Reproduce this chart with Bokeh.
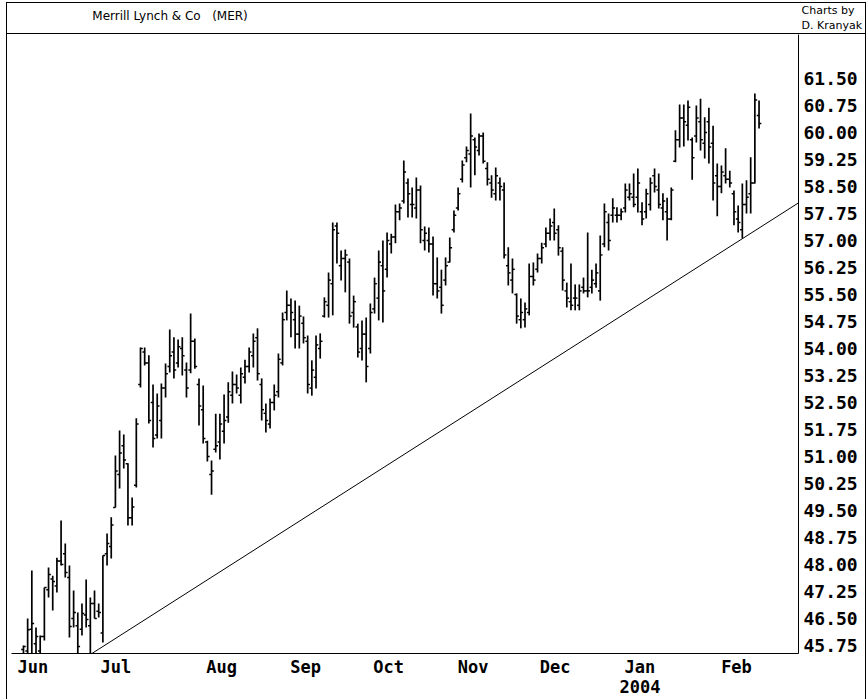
from bokeh.plotting import figure
from bokeh.layouts import column
from bokeh.models import ColumnDataSource, Range1d, FixedTicker, LinearAxis
from bokeh.core.properties import value
from bokeh.embed import file_html
from bokeh.resources import INLINE

# ---------------- data (daily OHLC, Jun 2003 - Feb 2004) ----------------
highs = [45.75, 46.5, 47.83, 46.25, 46.03, 47.36, 47.92, 47.69, 48.19, 49.22,
         48.58, 47.97, 47.28, 46.67, 46.92, 47.58, 47.08, 47.28, 46.92, 48.25,
         48.86, 49.31, 51.03, 51.72, 51.61, 50.81, 49.86, 52.06, 54.03, 54.03,
         53.81, 53.0, 52.75, 53.03, 53.58, 54.53, 54.31, 54.25, 54.31, 53.61,
         54.97, 54.28, 53.17, 52.97, 51.44, 50.89, 52.19, 52.19, 52.72, 53.06,
         53.36, 53.28, 53.47, 53.69, 54.03, 54.42, 54.56, 53.17, 52.47, 52.61,
         53.0, 53.86, 55.0, 55.61, 55.39, 55.33, 55.19, 54.89, 54.36, 53.67,
         54.36, 54.42, 55.42, 56.11, 57.5, 57.5, 56.72, 56.75, 56.5, 55.47,
         54.69, 54.78, 54.86, 55.25, 55.97, 56.72, 57.0, 57.22, 57.19, 58.0,
         58.03, 59.22, 58.72, 58.47, 58.75, 58.53, 57.39, 57.36, 57.11, 56.53,
         56.19, 56.53, 57.08, 57.83, 58.47, 59.22, 59.61, 60.53, 59.86, 59.97,
         60.0, 59.17, 58.81, 59.03, 58.75, 58.61, 56.81, 56.5, 55.53, 55.39,
         55.28, 56.36, 56.39, 56.64, 56.94, 57.36, 57.61, 57.89, 57.42, 56.81,
         55.83, 56.36, 55.78, 55.78, 55.97, 57.22, 56.19, 56.36, 57.14, 58.03,
         57.75, 58.17, 57.92, 57.89, 58.58, 58.58, 58.86, 59.0, 58.06, 58.44,
         58.75, 59.0, 58.86, 58.31, 58.19, 58.47, 60.06, 60.78, 60.78, 60.89,
         59.86, 60.75, 60.94, 60.42, 60.69, 60.19, 59.14, 59.08, 59.56, 58.94,
         58.39, 57.97, 58.58, 58.67, 59.31, 61.08, 60.89]

lows = [45.45, 45.45, 45.45, 45.45, 45.45, 45.89, 47.08, 46.72, 47.22, 47.97,
        47.64, 45.97, 46.25, 45.45, 46.03, 46.25, 45.5, 46.5, 46.53, 45.83,
        47.97, 48.17, 49.58, 50.11, 50.67, 49.08, 49.08, 50.14, 52.92, 53.53,
        51.92, 51.25, 51.5, 51.5, 52.64, 53.33, 53.17, 53.47, 53.25, 52.64,
        53.31, 53.44, 51.86, 51.36, 50.86, 49.94, 51.11, 50.92, 51.36, 51.94,
        52.47, 52.75, 52.47, 53.03, 53.33, 53.47, 53.11, 52.0, 51.67, 51.78,
        52.28, 52.64, 53.53, 54.78, 54.31, 54.0, 54.0, 54.14, 52.75, 52.69,
        52.89, 53.72, 54.86, 54.86, 54.92, 56.36, 55.89, 55.56, 54.69, 54.58,
        53.75, 53.67, 53.06, 53.86, 54.97, 54.78, 54.72, 55.97, 56.64, 56.92,
        57.56, 58.03, 57.64, 57.64, 57.61, 56.92, 56.72, 56.67, 55.47, 55.39,
        54.97, 55.75, 56.39, 57.22, 57.83, 58.61, 59.17, 58.47, 58.81, 59.36,
        59.14, 58.53, 58.19, 58.11, 58.11, 56.5, 55.75, 55.53, 54.69, 54.56,
        54.58, 54.92, 55.75, 56.11, 56.36, 56.81, 57.0, 57.0, 56.58, 55.61,
        55.14, 55.06, 55.06, 55.06, 55.53, 55.42, 55.53, 55.69, 55.33, 56.81,
        56.72, 57.5, 57.5, 57.56, 57.78, 58.11, 57.92, 57.78, 57.42, 57.61,
        57.83, 58.33, 57.89, 57.56, 57.0, 57.56, 59.17, 59.58, 59.61, 59.78,
        58.69, 59.72, 59.5, 59.28, 59.14, 58.11, 57.67, 58.31, 58.58, 58.47,
        57.42, 57.22, 57.06, 57.75, 57.75, 58.58, 60.11]

opens = [45.64, 45.6, 46.2, 45.8, 45.6, 46.0, 47.3, 47.6, 47.4, 48.1,
         48.3, 47.64, 46.5, 46.3, 46.2, 46.6, 46.3, 46.92, 46.7, 46.1,
         48.3, 48.5, 49.58, 50.5, 51.3, 50.8, 49.3, 50.2, 53.0, 53.9,
         53.6, 52.5, 51.6, 52.0, 52.9, 53.5, 53.9, 53.6, 54.0, 53.4,
         53.4, 54.2, 53.0, 52.3, 51.4, 50.5, 51.2, 51.4, 51.7, 52.1,
         52.7, 53.0, 52.7, 53.2, 53.5, 53.8, 54.3, 53.0, 52.2, 51.9,
         52.5, 52.8, 53.6, 55.0, 55.2, 54.8, 54.4, 54.7, 54.2, 52.9,
         53.2, 54.0, 54.9, 55.2, 55.8, 57.4, 56.3, 56.5, 56.4, 55.0,
         54.6, 54.0, 54.4, 54.0, 55.1, 55.4, 56.3, 56.2, 56.9, 57.1,
         57.8, 58.1, 58.6, 58.0, 57.9, 58.4, 57.0, 57.0, 56.9, 55.8,
         55.7, 55.9, 56.4, 57.3, 57.9, 58.7, 59.3, 59.4, 59.8, 59.5,
         59.9, 59.0, 58.6, 58.3, 58.6, 58.4, 56.3, 55.9, 55.5, 54.8,
         54.8, 55.0, 56.0, 56.2, 56.5, 56.9, 57.2, 57.5, 57.3, 56.7,
         55.6, 55.3, 55.4, 55.2, 55.7, 55.6, 55.7, 55.8, 55.6, 56.9,
         57.5, 57.7, 57.7, 57.7, 57.9, 58.2, 58.2, 58.2, 57.8, 57.8,
         58.0, 58.8, 58.4, 57.9, 57.8, 57.6, 59.2, 59.8, 60.4, 60.2,
         59.8, 59.9, 60.3, 59.7, 60.3, 59.7, 58.8, 58.5, 58.8, 58.7,
         58.3, 57.6, 57.3, 58.0, 58.3, 58.6, 60.47]

closes = [45.72, 46.19, 46.36, 46.0, 46.0, 47.36, 47.72, 47.53, 48.1, 48.0,
          47.78, 46.28, 46.67, 45.72, 46.64, 46.47, 46.92, 46.5, 46.67, 48.25,
          48.58, 49.1, 50.6, 51.1, 50.9, 49.3, 49.6, 51.9, 54.0, 53.6,
          52.0, 51.5, 52.4, 52.9, 53.3, 53.8, 53.4, 54.05, 53.8, 52.9,
          54.2, 53.5, 52.4, 51.5, 51.0, 50.6, 51.3, 51.9, 52.0, 52.8,
          53.0, 52.9, 53.3, 53.5, 53.9, 54.2, 53.3, 52.3, 52.0, 52.5,
          52.7, 53.7, 54.8, 55.2, 55.0, 54.4, 54.9, 54.3, 53.0, 53.4,
          54.1, 54.2, 55.3, 55.9, 57.3, 57.2, 56.5, 56.6, 54.9, 55.3,
          53.9, 54.4, 53.5, 55.0, 55.8, 56.4, 55.6, 57.0, 57.1, 57.8,
          57.9, 58.9, 58.3, 58.0, 58.4, 57.3, 57.2, 56.9, 55.8, 55.6,
          55.2, 56.3, 56.8, 57.7, 58.3, 59.1, 59.5, 59.9, 59.6, 59.9,
          59.2, 58.7, 58.4, 58.8, 58.5, 56.6, 56.1, 56.2, 54.9, 55.0,
          55.1, 56.0, 55.9, 56.5, 56.8, 57.2, 57.4, 57.2, 56.8, 55.9,
          55.4, 55.2, 55.4, 55.6, 55.6, 55.6, 55.9, 56.1, 56.6, 57.8,
          57.0, 57.9, 57.7, 57.8, 58.4, 58.3, 58.0, 58.6, 57.6, 58.3,
          58.6, 58.5, 58.0, 58.1, 57.6, 58.4, 59.8, 60.4, 60.3, 60.7,
          59.3, 60.4, 59.8, 60.0, 59.6, 58.6, 58.5, 58.9, 58.7, 58.6,
          57.8, 57.5, 58.0, 58.2, 58.6, 60.9, 60.25]

# price scale tick labels (right axis)
tick_labels = ["45.75", "46.50", "47.25", "48.00", "48.75", "49.50", "50.25",
               "51.00", "51.75", "52.50", "53.25", "54.00", "54.75", "55.50",
               "56.25", "57.00", "57.75", "58.50", "59.25", "60.00", "60.75",
               "61.50"]
price_ticks = [float(s) for s in tick_labels]

# month labels (position = bar index where the label sits)
month_labels = ["Jun", "Jul", "Aug", "Sep", "Oct", "Nov", "Dec", "Jan", "Feb"]
month_pos = [2.27, 22.1, 47.4, 67.5, 87.35, 107.6, 127.2, 147.5, 170.6]
year_labels = ["2004"]
year_pos = [147.5]

# trendline anchor points (bar index, price): two lows it touches
trend_x = [16, 172]
trend_y = [45.5, 57.05]

title_text = "Merrill Lynch & Co \u00a0 (MER)"
credit_lines = ["Charts by", "D. Kranyak"]
credit_rows = [8.5, 24.5]          # header rows (pixels from top)

W = 860

# ---------------- header bar (pixel coordinates) ----------------
t = figure(width=W, height=31, x_range=Range1d(11, 800), y_range=Range1d(34, 3),
           output_backend="svg", toolbar_location=None,
           x_axis_location=None, y_axis_location="right",
           min_border_left=4, min_border_right=67, min_border_top=0, min_border_bottom=0)
t.outline_line_color = None
t.grid.visible = False
t.background_fill_alpha = 0
t.border_fill_alpha = 0
t.styles = {"border-bottom": "1px solid black"}
t.text(x=[92], y=[15.5], text=[title_text], text_font=value("DejaVu Sans"),
       text_font_size="12px", text_baseline="middle", text_align="left", text_color="black")
ta = t.yaxis[0]
ta.ticker = FixedTicker(ticks=credit_rows)
ta.major_label_overrides = dict(zip(credit_rows, credit_lines))
ta.axis_line_color = None
ta.major_tick_line_color = None
ta.minor_tick_line_color = None
ta.major_tick_out = 0
ta.major_tick_in = 0
ta.minor_tick_out = 0
ta.major_label_standoff = 3
ta.major_label_text_font = "DejaVu Sans"
ta.major_label_text_font_size = "11px"
ta.major_label_text_font_style = "normal"
ta.major_label_text_color = "black"

# ---------------- main OHLC chart ----------------
n = len(highs)
idx = list(range(n))
tl = 0.55
src = ColumnDataSource(dict(x=idx, high=highs, low=lows, open=opens, close=closes,
                            xo=[i - tl for i in idx], xc=[i + tl for i in idx]))

p = figure(width=W, height=666,
           x_range=Range1d(-2.864, 185.44), y_range=Range1d(45.5278, 62.722),
           output_backend="svg", toolbar_location=None, y_axis_location="right",
           min_border_left=4, min_border_right=67, min_border_top=0, min_border_bottom=47)
p.outline_line_color = None
p.grid.visible = False
p.background_fill_alpha = 0
p.border_fill_alpha = 0

bar_kw = dict(source=src, line_color="black")
p.segment(x0="x", y0="low", x1="x", y1="high", line_width=1.7, **bar_kw)
p.segment(x0="xo", y0="open", x1="x", y1="open", line_width=1.5, **bar_kw)
p.segment(x0="x", y0="close", x1="xc", y1="close", line_width=1.5, **bar_kw)

slope = (trend_y[1] - trend_y[0]) / (trend_x[1] - trend_x[0])
x_end = p.x_range.end
p.line([trend_x[0], x_end], [trend_y[0], trend_y[0] + slope * (x_end - trend_x[0])],
       line_color="black", line_width=1)

year_axis = LinearAxis(ticker=FixedTicker(ticks=year_pos),
                       major_label_overrides=dict(zip(year_pos, year_labels)))
p.add_layout(year_axis, "below")

axis_font = "DejaVu Sans Mono"
for ax in (p.yaxis[0], p.xaxis[0], year_axis):
    ax.axis_line_color = "black"
    ax.major_tick_line_color = None
    ax.minor_tick_line_color = None
    ax.major_tick_out = 0
    ax.major_tick_in = 0
    ax.minor_tick_out = 0
    ax.major_label_text_font = axis_font
    ax.major_label_text_font_style = "bold"
    ax.major_label_text_color = "black"

ya = p.yaxis[0]
ya.ticker = FixedTicker(ticks=price_ticks)
ya.major_label_overrides = dict(zip(price_ticks, tick_labels))
ya.major_label_standoff = 5
ya.major_label_text_font_size = "18px"

xa = p.xaxis[0]
xa.ticker = FixedTicker(ticks=month_pos)
xa.major_label_overrides = dict(zip(month_pos, month_labels))
xa.major_label_standoff = 3
xa.major_label_text_font_size = "17px"

year_axis.axis_line_color = None
year_axis.major_label_standoff = 0
year_axis.major_label_text_font_size = "17px"

page = column(t, p, spacing=0, width=860, height=697,
              styles={"margin-left": "6px", "margin-top": "2px",
                      "border-left": "1px solid black", "border-top": "1px solid black",
                      "border-right": "1px solid black"})

open("out.html", "w").write(file_html(page, INLINE))
